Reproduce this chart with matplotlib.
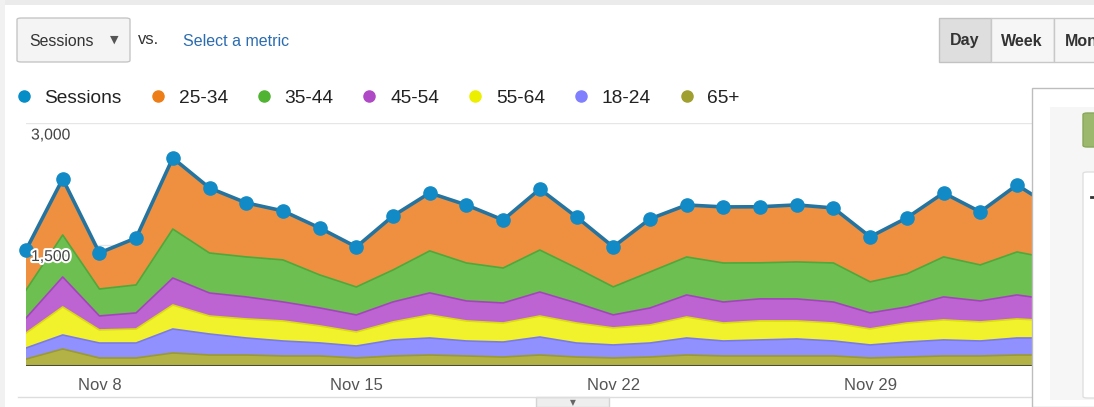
import numpy as np
import pandas as pd
import matplotlib
matplotlib.use("Agg")
from matplotlib import pyplot as plt
from matplotlib.patches import Rectangle, FancyBboxPatch
from matplotlib.lines import Line2D
import matplotlib.patheffects as pe
import matplotlib.transforms as mtransforms

plt.rcParams['font.family'] = ['Liberation Sans', 'DejaVu Sans']

# ---- data ----
dates = pd.date_range("2015-11-06", "2015-12-04", freq="D")

age_65 = [86, 210, 99, 99, 161, 136, 136, 124, 124, 99, 124, 136, 124, 111, 136,
          111, 99, 111, 136, 124, 124, 124, 124, 99, 111, 124, 124, 136, 136]
age_18_24 = [136, 173, 185, 185, 296, 259, 210, 185, 161, 148, 198, 210, 185, 185, 222,
             173, 161, 173, 210, 185, 198, 210, 185, 161, 185, 198, 185, 210, 210]
age_55_64 = [185, 346, 161, 173, 296, 222, 235, 247, 210, 173, 222, 284, 247, 235, 259,
             247, 210, 222, 259, 222, 235, 222, 222, 198, 235, 247, 235, 235, 210]
age_45_54 = [185, 370, 173, 198, 333, 284, 272, 235, 222, 210, 247, 272, 247, 247, 296,
             247, 161, 210, 272, 259, 272, 272, 259, 198, 198, 284, 259, 296, 259]
age_35_44 = [346, 519, 333, 346, 605, 494, 494, 519, 408, 346, 395, 519, 469, 432, 519,
             432, 346, 445, 469, 482, 445, 457, 482, 383, 408, 494, 445, 531, 506]
age_25_34 = [494, 692, 445, 580, 877, 803, 667, 605, 580, 494, 667, 716, 716, 593, 753,
             630, 494, 655, 642, 692, 692, 704, 679, 556, 692, 790, 655, 827, 630]
sessions = [1432, 2310, 1396, 1581, 2568, 2198, 2014, 1915, 1705, 1470, 1853, 2137, 1988, 1803, 2185,
            1840, 1471, 1816, 1988, 1964, 1966, 1989, 1951, 1595, 1829, 2137, 1903, 2235, 1951]

legend_labels = ['Sessions', '25-34', '35-44', '45-54', '55-64', '18-24', '65+']
tick_days = ["2015-11-08", "2015-11-15", "2015-11-22", "2015-11-29"]
tick_labels = ['Nov 8', 'Nov 15', 'Nov 22', 'Nov 29']

W, H = 1094, 407
def fx(x):
    return x / W
def fy(y):
    return 1 - y / H

fig = plt.figure(figsize=(W / 100, H / 100), dpi=100)
fig.patch.set_facecolor('white')

# screenshot frame strips
fig.patches.append(Rectangle((0, fy(5)), 1, 5 / H, transform=fig.transFigure,
                             facecolor='#ebebeb', edgecolor='none', zorder=0))
fig.patches.append(Rectangle((0, 0), fx(5), 1, transform=fig.transFigure,
                             facecolor='#f1f1f1', edgecolor='none', zorder=0))

# ---- main chart ----
ax = fig.add_axes([fx(26), fy(366), fx(1032) - fx(26), (366 - 123) / H])
series = [age_65, age_18_24, age_55_64, age_45_54, age_35_44, age_25_34]
fills = ['#b2b246', '#9090ff', '#f2f22c', '#bd64d2', '#6cbf50', '#ef9040']
edges = ['#9a9a30', '#7b7be8', '#dada10', '#a444bc', '#4fa83a', '#ef9040']
ax.stackplot(dates, *series, colors=fills, linewidth=0, zorder=2)
tops = np.cumsum(np.array(series), axis=0)
for top, ec in zip(tops[:-1], edges[:-1]):
    ax.plot(dates, top, color=ec, linewidth=1.2, zorder=3)

# sessions line runs on under the overlay panel, so no clipping needed
ax.plot(dates, sessions, color='#2574a0', linewidth=2.6, zorder=5, clip_on=False)
ax.plot(dates, sessions, linestyle='none', marker='o', markersize=9.5,
        color='#128ac6', zorder=6, clip_on=False)
ax.axhline(0, color='#4b4b3a', linewidth=2.2, zorder=7)

ax.set_xlim(dates[0], dates[0] + pd.Timedelta(days=27.41))
ax.set_ylim(0, 3000)
ax.set_yticks([1500, 3000])
ax.set_yticklabels([])
ax.grid(axis='y', color='#e6e6e6', linewidth=1, zorder=0)
ax.set_axisbelow(True)
for s in ax.spines.values():
    s.set_visible(False)
ax.set_xticks(pd.to_datetime(tick_days))
ax.set_xticklabels(tick_labels, fontsize=12, color='#555555')
ax.tick_params(axis='x', length=0, pad=9)
ax.tick_params(axis='y', length=0)

off = mtransforms.offset_copy(ax.transData, fig=fig, x=0, y=-12, units='dots')
for val, lab in [(3000, '3,000'), (1500, '1,500')]:
    ax.text(dates[0] + pd.Timedelta(hours=3.3), val, lab, transform=off, fontsize=11.3,
            color='#444444', va='center', ha='left', zorder=8,
            path_effects=[pe.withStroke(linewidth=3, foreground='white')])

# ---- legend ----
leg_colors = ['#058dc7', '#ed7e17', '#50b432', '#af49c5', '#edef00', '#8080ff', '#a0a030']
handles = [Line2D([], [], linestyle='none', marker='o', markersize=8,
                  color=c) for c in leg_colors]
fig.legend(handles, legend_labels, ncol=7, loc='center left',
           bbox_to_anchor=(fx(16), fy(98.5)), frameon=False, fontsize=13.8,
           handlelength=0.8, handletextpad=0.69, columnspacing=1.47,
           borderpad=0, borderaxespad=0, labelcolor='#222222')

# ---- controls row ----
fig.patches.append(FancyBboxPatch((fx(17), fy(62)), fx(130) - fx(17), 44 / H,
                                  boxstyle='round,pad=0,rounding_size=0.004',
                                  transform=fig.transFigure, facecolor='#f4f4f4',
                                  edgecolor='#c6c6c6', linewidth=1))
fig.text(fx(29), fy(41), 'Sessions', fontsize=11.4, color='#333333', va='center')
fig.text(fx(114), fy(40), '\u25BC', fontsize=8, color='#555555', va='center', ha='center',
         family=['DejaVu Sans'])
fig.text(fx(138), fy(40), 'vs.', fontsize=12, color='#333333', va='center')
fig.text(fx(183), fy(41), 'Select a metric', fontsize=11.5, color='#2b6cb0', va='center')

fig.patches.append(Rectangle((fx(939), fy(62)), fx(991) - fx(939), 44 / H,
                             transform=fig.transFigure, facecolor='#dedede',
                             edgecolor='#c2c2c2', linewidth=1))
fig.patches.append(Rectangle((fx(991), fy(62)), fx(1054) - fx(991), 44 / H,
                             transform=fig.transFigure, facecolor='#f6f6f6',
                             edgecolor='#c8c8c8', linewidth=1))
fig.patches.append(Rectangle((fx(1054), fy(62)), fx(1110) - fx(1054), 44 / H,
                             transform=fig.transFigure, facecolor='#f6f6f6',
                             edgecolor='#c8c8c8', linewidth=1))
fig.text(fx(965), fy(41), 'Day', fontsize=11.5, weight='bold', color='#333333',
         va='center', ha='center')
fig.text(fx(1022), fy(41), 'Week', fontsize=11.5, weight='bold', color='#333333',
         va='center', ha='center')
# the screenshot cuts this button off at the right edge
fig.text(fx(1065), fy(41), 'Month', fontsize=11.5, weight='bold', color='#333333',
         va='center', ha='left')

# ---- bottom separator and handle ----
fig.add_artist(Line2D([fx(18), fx(1032)], [fy(397), fy(397)], color='#dddddd',
                      linewidth=1, transform=fig.transFigure))
fig.patches.append(Rectangle((fx(536), 0), fx(609) - fx(536), 10 / H,
                             transform=fig.transFigure, facecolor='#eeeeee',
                             edgecolor='#d4d4d4', linewidth=1))
fig.text(fx(573), fy(403), '\u25BC', fontsize=5.5, color='#666666', va='center',
         ha='center', family=['DejaVu Sans'])

# ---- overlay panel on the right ----
fig.patches.append(Rectangle((fx(1032), 0), fx(1100) - fx(1032), fy(88),
                             transform=fig.transFigure, facecolor='white',
                             edgecolor='#bdbdbd', linewidth=1, zorder=10))
fig.patches.append(Rectangle((fx(1050), fy(400)), fx(1100) - fx(1050), (400 - 107) / H,
                             transform=fig.transFigure, facecolor='#f6f6f6',
                             edgecolor='none', zorder=11))
fig.patches.append(FancyBboxPatch((fx(1083), fy(147)), fx(1100) - fx(1083), 34 / H,
                                  boxstyle='round,pad=0,rounding_size=0.004',
                                  transform=fig.transFigure, facecolor='#9cb86c',
                                  edgecolor='#88a65a', linewidth=1, zorder=12))
fig.patches.append(FancyBboxPatch((fx(1083), fy(398)), fx(1100) - fx(1083), (398 - 172) / H,
                                  boxstyle='round,pad=0,rounding_size=0.004',
                                  transform=fig.transFigure, facecolor='white',
                                  edgecolor='#e0e0e0', linewidth=1, zorder=12))
fig.add_artist(Line2D([fx(1091), fx(1094)], [fy(197), fy(197)], color='#333333',
                      linewidth=2, transform=fig.transFigure, zorder=13))

fig.savefig("out.png", dpi=100)
